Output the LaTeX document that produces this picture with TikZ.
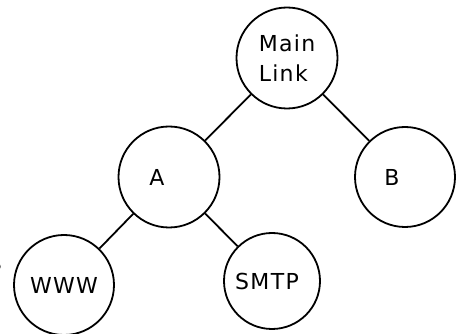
\documentclass[tikz,border=0pt]{standalone}
\usepackage{fontspec}
\setsansfont{DejaVu Sans}[LetterSpace=6]

\tikzset{
  hub/.style={draw, circle, line width=1.8pt, minimum size=100pt, inner sep=0pt,
    font=\sffamily\fontsize{22}{30}\selectfont},
  link/.style={line width=1.8pt},
}

\begin{document}
\begin{tikzpicture}[x=1pt,y=-1pt]
        \useasboundingbox (0,0) rectangle (459,334);
        % the tree of links
        \node[hub, minimum size=101pt, align=left] (main) at (287,58) {Main\\Link};
        \node[hub, minimum size=101pt] (a) at (169,177) {\hspace{-24pt}A};
        \node[hub] (b) at (405,177) {\hspace{-26pt}B};
        \node[hub] (www) at (64,285) {WWW};
        \node[hub, minimum size=96pt] (smtp) at (272,281) {\hspace{-10pt}SMTP};
        \draw[link] (main) -- (a);
        \draw[link] (main) -- (b);
        \draw[link] (a) -- (www);
        \draw[link] (a) -- (smtp);
        % stray letter at the left edge
        \node[anchor=east, font=\fontsize{28}{28}\selectfont] (cut) at (5,264) {s};
\end{tikzpicture}
\end{document}
